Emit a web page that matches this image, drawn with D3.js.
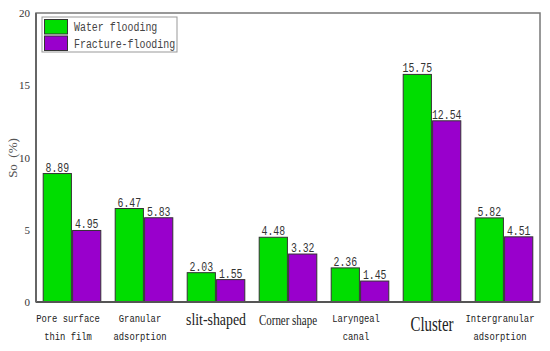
<!DOCTYPE html>
<html>
<head>
<meta charset="utf-8">
<script src="https://cdn.jsdelivr.net/npm/d3@7"></script>
<style>
  body { margin: 0; background: #fff; }
  svg { display: block; }
</style>
</head>
<body>
<div id="chart"></div>
<script>
// categories (multi-line labels split by \n)
var categories = ["Pore surface\nthin film", "Granular\nadsorption", "slit-shaped", "Corner shape",
                  "Laryngeal\ncanal", "Cluster", "Intergranular\nadsorption"];
var seriesNames = ["Water flooding", "Fracture-flooding"];
var waterFlooding = [8.89, 6.47, 2.03, 4.48, 2.36, 15.75, 5.82];
var fractureFlooding = [4.95, 5.83, 1.55, 3.32, 1.45, 12.54, 4.51];
var yTicks = [0, 5, 10, 15, 20];

var colors = ["#00dd00", "#9900cc"];

var W = 550, H = 351;
var margin = { top: 13, right: 10, bottom: 49, left: 36 },
    width = W - margin.left - margin.right,
    height = H - margin.top - margin.bottom;

var svg = d3.select("#chart").append("svg")
    .attr("width", W).attr("height", H);

var g = svg.append("g")
    .attr("transform", "translate(" + margin.left + "," + margin.top + ")");

var x = d3.scaleBand()
    .domain(categories)
    .range([0, width])
    .paddingInner(0.2)
    .paddingOuter(0.1);

var x1 = d3.scaleBand()
    .domain([0, 1])
    .range([0, x.bandwidth()])
    .paddingInner(0.04);

var y = d3.scaleLinear()
    .domain([0, 20])
    .range([height, 0]);

// frame
g.append("rect")
    .attr("x", 0).attr("y", 0)
    .attr("width", width).attr("height", height)
    .attr("fill", "none")
    .attr("stroke", "#777").attr("stroke-width", 1.5);

// Y axis labels
g.selectAll(".ytick")
    .data(yTicks)
    .enter().append("text")
    .attr("x", -6)
    .attr("y", function (d) { return y(d) + 4; })
    .attr("text-anchor", "end")
    .style("font-family", "Liberation Serif")
    .style("font-size", "11px")
    .style("fill", "#333")
    .text(function (d) { return d; });

// y title
svg.append("text")
    .attr("transform", "translate(17,158) rotate(-90)")
    .attr("text-anchor", "middle")
    .style("font-family", "Liberation Serif")
    .style("font-size", "13px")
    .style("fill", "#555")
    .text("So\u2002(%)");

var series = [waterFlooding, fractureFlooding];

series.forEach(function (vals, s) {
    g.append("g").selectAll("rect")
        .data(vals)
        .enter().append("rect")
        .attr("x", function (d, i) { return x(categories[i]) + x1(s); })
        .attr("y", function (d) { return y(d); })
        .attr("width", x1.bandwidth())
        .attr("height", function (d) { return height - y(d); })
        .attr("fill", colors[s])
        .attr("stroke", "#333")
        .attr("stroke-width", 1);

    g.append("g").selectAll("text")
        .data(vals)
        .enter().append("text")
        .attr("x", function (d, i) { return x(categories[i]) + x1(s) + x1.bandwidth() / 2; })
        .attr("y", function (d) { return y(d) - 2; })
        .attr("text-anchor", "middle")
        .attr("textLength", function (d) { return d.toFixed(2).length * 5.9; })
        .attr("lengthAdjust", "spacingAndGlyphs")
        .style("font-family", "Liberation Mono")
        .style("font-size", "12px")
        .style("fill", "#333")
        .text(function (d) { return d.toFixed(2); });
});

// axis lines over the bars
g.append("line")
    .attr("x1", 0).attr("x2", width)
    .attr("y1", height).attr("y2", height)
    .attr("stroke", "#555").attr("stroke-width", 2);
g.append("line")
    .attr("x1", 0).attr("x2", 0)
    .attr("y1", 0).attr("y2", height)
    .attr("stroke", "#666").attr("stroke-width", 2);

// category labels; single-line ones use a larger, condensed serif
var bigLabel = { "slit-shaped": 16, "Corner shape": 14, "Cluster": 21 };
categories.forEach(function (c) {
    var cx = x(c) + x.bandwidth() / 2;
    var lines = c.split("\n");
    if (lines.length === 1) {
        var fs = bigLabel[c];
        g.append("text")
            .attr("x", cx)
            .attr("y", height + (c === "Cluster" ? 29 : 23))
            .attr("text-anchor", "middle")
            .attr("textLength", c === "Cluster" ? 43 : (c === "slit-shaped" ? 60 : 58))
            .attr("lengthAdjust", "spacingAndGlyphs")
            .style("font-family", "Liberation Serif")
            .style("font-size", fs + "px")
            .style("fill", "#222")
            .text(c);
    } else {
        lines.forEach(function (l, k) {
            g.append("text")
                .attr("x", cx - 4)
                .attr("y", height + 20 + k * 18)
                .attr("text-anchor", "middle")
                .attr("textLength", l.length * 5.3)
                .attr("lengthAdjust", "spacingAndGlyphs")
                .style("font-family", "Liberation Mono")
                .style("font-size", "11px")
                .style("fill", "#222")
                .text(l);
        });
    }
});

// legend
var legend = svg.append("g").attr("transform", "translate(42,17)");
legend.append("rect")
    .attr("width", 135).attr("height", 35)
    .attr("fill", "#fff")
    .attr("stroke", "#999").attr("stroke-width", 1);
seriesNames.forEach(function (n, i) {
    legend.append("rect")
        .attr("x", 2.5).attr("y", 2.5 + i * 16.5)
        .attr("width", 23).attr("height", 14.5)
        .attr("fill", colors[i])
        .attr("stroke", "#333").attr("stroke-width", 1);
    legend.append("text")
        .attr("x", 32).attr("y", 14 + i * 16.5)
        .attr("textLength", n.length * 5.95)
        .attr("lengthAdjust", "spacingAndGlyphs")
        .style("font-family", "Liberation Mono")
        .style("font-size", "12.5px")
        .style("fill", "#444")
        .text(n);
});
</script>
</body>
</html>
